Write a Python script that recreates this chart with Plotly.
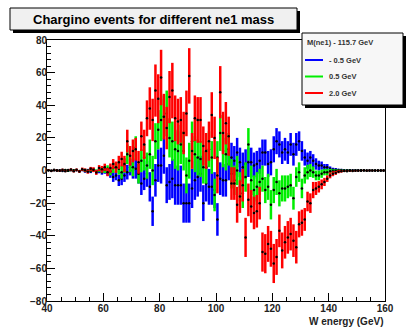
import plotly.graph_objects as go

# bin centres (GeV): 40.5 ... 159.5, 1 GeV bins
bin_lo = 40
n_bins = 120
w_energy = [bin_lo + i + 0.5 for i in range(n_bins)]

series_names = ["- 0.5 GeV", "0.5 GeV", "2.0 GeV"]
series_colors = ["#0000ff", "#00ee00", "#ff0000"]

blue_vals = [
    0.1, -0.2, 0.2, -0.1, 0.1, -0.3, 0.2, -0.2, 0.3, -0.2,
    0.2, -0.4, 0.3, -0.5, 0.2, -0.6, 0.4, -0.8, -0.3, -1.0,
    0.0, -1.0, -2.0, -4.0, -3.0, -6.0, -5.0, -3.0, -1.0, 2.0,
    0.0, 1.0, -2.0, -8.0, -5.0, -2.0, -10.0, -25.0, -6.0, 3.0,
    3.0, 9.0, -9.0, -7.0, -5.0, -9.0, -9.0, -9.0, -20.0, -20.0,
    -20.0, -11.0, -6.0, -4.0, -2.0, -20.0, -8.0, -10.0, -10.0, -12.0,
    -30.0, -5.0, -6.0, -6.0, 4.0, 8.0, 6.0, 11.0, 5.0, 2.0,
    4.0, 5.0, 5.0, 3.0, 4.0, 6.0, 11.0, 11.0, 4.0, 5.0,
    13.0, 18.0, 16.0, 11.0, 13.0, 11.0, 16.0, 10.0, 16.0, 18.0,
    12.0, 8.0, 6.0, 8.0, 6.0, 4.0, 3.0, 3.0, 2.0, 2.0,
    1.0, 0.5, 0.5, 0.3, 0.3, 0.2, 0.1, 0.2, 0.1, 0.1,
    0.1, 0.0, 0.1, 0.0, 0.05, 0.0, 0.02, 0.0, 0.0, 0.0,
]
blue_errs = [
    0.3, 0.3, 0.3, 0.3, 0.4, 0.4, 0.4, 0.5, 0.5, 0.5,
    0.6, 0.6, 0.7, 0.8, 0.8, 1.0, 1.0, 1.2, 1.4, 1.6,
    2.0, 2.2, 2.5, 3.0, 3.0, 3.5, 4.0, 4.0, 4.5, 5.0,
    5.0, 6.0, 6.0, 7.0, 7.0, 8.0, 9.0, 9.0, 10.0, 10.0,
    11.0, 11.0, 11.0, 11.0, 12.0, 12.0, 12.0, 12.0, 12.0, 12.0,
    12.0, 12.0, 12.0, 12.0, 11.0, 11.0, 11.0, 11.0, 11.0, 11.0,
    10.0, 10.0, 10.0, 10.0, 10.0, 9.0, 9.0, 9.0, 9.0, 9.0,
    9.0, 9.0, 9.0, 8.0, 8.0, 8.0, 8.0, 8.0, 8.0, 8.0,
    8.0, 8.0, 8.0, 7.0, 7.0, 7.0, 7.0, 7.0, 7.0, 6.0,
    6.0, 5.0, 5.0, 4.0, 4.0, 3.5, 3.0, 2.5, 2.0, 2.0,
    1.5, 1.2, 1.0, 0.8, 0.7, 0.6, 0.5, 0.5, 0.4, 0.4,
    0.3, 0.3, 0.3, 0.3, 0.3, 0.3, 0.3, 0.3, 0.3, 0.3,
]

green_vals = [
    0.2, -0.1, 0.1, 0.2, -0.2, 0.1, 0.3, -0.2, 0.2, 0.1,
    0.3, -0.3, 0.4, 0.2, -0.4, 0.5, 0.3, -0.5, 0.6, 0.4,
    0.5, 1.0, -0.5, 1.5, 2.0, 1.0, -1.0, 3.0, 10.0, 4.0,
    2.0, 14.0, -2.0, 6.0, 8.0, 3.0, 10.0, 0.0, 18.0, 25.0,
    31.0, 33.0, 35.0, 20.0, 18.0, 13.0, 12.0, 16.0, 12.0, -3.0,
    6.0, 18.0, 10.0, 8.0, 7.0, 2.0, 2.0, 13.0, 8.0, -15.0,
    8.0, 23.0, 12.0, 10.0, 13.0, -2.0, -6.0, 0.0, -10.0, -14.0,
    -4.0, 16.0, -6.0, -12.0, -10.0, -7.0, -5.0, -12.0, -10.0, -21.0,
    -12.0, -7.0, -14.0, -11.0, -11.0, -10.0, -9.0, -17.0, -4.0, -1.0,
    -11.0, -3.0, -1.0, 0.0, -1.0, -3.0, -3.0, -2.0, -1.0, -1.0,
    -0.5, -0.5, -0.3, -0.2, -0.2, -0.1, -0.1, 0.1, -0.1, 0.0,
    0.0, 0.1, 0.0, -0.05, 0.0, 0.0, 0.0, 0.0, 0.0, 0.0,
]
green_errs = [
    0.3, 0.3, 0.3, 0.3, 0.4, 0.4, 0.4, 0.5, 0.5, 0.5,
    0.6, 0.6, 0.7, 0.8, 0.8, 1.0, 1.0, 1.2, 1.4, 1.6,
    2.0, 2.2, 2.5, 3.0, 3.0, 3.5, 4.0, 4.5, 6.0, 5.0,
    5.5, 7.0, 6.0, 7.0, 8.0, 8.0, 9.0, 9.0, 11.0, 12.0,
    13.0, 13.0, 14.0, 12.0, 12.0, 12.0, 12.0, 12.0, 12.0, 11.0,
    11.0, 12.0, 11.0, 11.0, 11.0, 10.0, 10.0, 11.0, 10.0, 10.0,
    10.0, 11.0, 10.0, 10.0, 10.0, 9.0, 9.0, 9.0, 9.0, 9.0,
    9.0, 10.0, 9.0, 9.0, 9.0, 8.0, 8.0, 8.0, 8.0, 9.0,
    8.0, 8.0, 8.0, 8.0, 8.0, 7.0, 7.0, 7.0, 6.0, 6.0,
    6.0, 5.0, 4.5, 4.0, 3.5, 3.0, 3.0, 2.5, 2.0, 2.0,
    1.5, 1.2, 1.0, 0.8, 0.7, 0.6, 0.5, 0.5, 0.4, 0.4,
    0.3, 0.3, 0.3, 0.3, 0.3, 0.3, 0.3, 0.3, 0.3, 0.3,
]

red_vals = [
    0.2, -0.3, 0.4, 0.1, -0.2, 0.5, -0.4, 0.3, 0.6, -0.5,
    0.4, -0.6, 0.8, 0.3, -0.8, 1.0, 0.5, -1.2, 1.5, 0.8,
    2.0, -1.0, 1.5, 4.0, 2.0, 5.0, 7.0, 4.0, 18.0, 9.0,
    12.0, 13.0, 5.0, 21.0, 16.0, 32.0, 38.0, 31.0, 49.0, 44.0,
    57.0, 33.0, 26.0, 45.0, 49.0, 32.0, 30.0, 31.0, 23.0, 35.0,
    58.0, 12.0, 32.0, 31.0, 31.0, 15.0, 12.0, 18.0, 34.0, 20.0,
    -3.0, 48.0, 23.0, 29.0, 21.0, -8.0, -8.0, -21.0, -16.0, -9.0,
    -41.0, -18.0, -22.0, -26.0, -25.0, -20.0, -50.0, -51.0, -45.0, -48.0,
    -57.0, -53.0, -37.0, -49.0, -44.0, -41.0, -39.0, -43.0, -47.0, -33.0,
    -32.0, -30.0, -19.0, -20.0, -12.0, -11.0, -10.0, -8.5, -7.0, -5.0,
    -3.0, -2.0, -1.5, -0.7, -0.5, -0.3, -0.4, -0.2, -0.3, -0.1,
    -0.2, -0.1, 0.1, -0.1, 0.05, -0.05, 0.0, 0.02, 0.0, 0.0,
]
red_errs = [
    0.5, 0.5, 0.5, 0.5, 0.5, 0.6, 0.6, 0.6, 0.7, 0.7,
    0.8, 0.8, 1.0, 1.0, 1.2, 1.2, 1.5, 1.5, 1.8, 2.0,
    2.2, 2.5, 2.8, 3.0, 3.5, 4.0, 4.5, 5.0, 7.0, 6.0,
    7.0, 7.0, 7.0, 9.0, 9.0, 11.0, 13.0, 13.0, 16.0, 15.0,
    17.0, 14.0, 13.0, 16.0, 17.0, 14.0, 14.0, 14.0, 13.0, 14.0,
    17.0, 11.0, 14.0, 14.0, 14.0, 12.0, 11.0, 12.0, 14.0, 13.0,
    11.0, 16.0, 13.0, 13.0, 12.0, 10.0, 10.0, 11.0, 10.0, 10.0,
    12.0, 10.0, 10.0, 10.0, 10.0, 10.0, 12.0, 12.0, 11.0, 11.0,
    12.0, 11.0, 10.0, 11.0, 10.0, 10.0, 10.0, 10.0, 10.0, 8.0,
    8.0, 7.0, 6.0, 6.0, 5.0, 4.0, 3.5, 3.0, 2.5, 2.0,
    1.8, 1.5, 1.2, 1.0, 0.8, 0.6, 0.5, 0.5, 0.4, 0.4,
    0.3, 0.3, 0.3, 0.3, 0.3, 0.3, 0.3, 0.3, 0.3, 0.3,
]

title_text = "Chargino events for different ne1 mass"
legend_header = "M(ne1) - 115.7 GeV"
x_title = "W energy (GeV)"

# ---- geometry (pixels of the 407x327 canvas) ----
W, H = 407, 327
L, R, T, B = 47, 385, 40, 301


def px(xp):
    return (xp - L) / (R - L)


def py(yp):
    return (B - yp) / (B - T)


fig = go.Figure()
for vals, errs, col, name in [
    (blue_vals, blue_errs, series_colors[0], series_names[0]),
    (green_vals, green_errs, series_colors[1], series_names[1]),
    (red_vals, red_errs, series_colors[2], series_names[2]),
]:
    fig.add_trace(go.Scatter(
        x=w_energy, y=vals, mode="markers", name=name, showlegend=False,
        marker=dict(color="black", size=2.5),
        error_y=dict(type="data", array=errs, visible=True, color=col,
                     thickness=2.5, width=0),
    ))

font_b = "Liberation Sans, Arial, sans-serif"
shapes = []
annotations = []

# title box with shadow
shapes.append(dict(type="rect", xref="paper", yref="paper",
                   x0=px(13), x1=px(300), y0=py(33), y1=py(11),
                   fillcolor="black", line=dict(width=0)))
shapes.append(dict(type="rect", xref="paper", yref="paper",
                   x0=px(10), x1=px(297), y0=py(30), y1=py(8),
                   fillcolor="#f0f0f0", line=dict(color="black", width=1)))
annotations.append(dict(text=title_text, xref="paper", yref="paper",
                        x=px(153.5), y=py(19.5), xanchor="center", yanchor="middle",
                        showarrow=False,
                        font=dict(family=font_b, size=13, color="black", weight="bold")))

# legend box with shadow
shapes.append(dict(type="rect", xref="paper", yref="paper",
                   x0=px(305), x1=px(406), y0=py(108), y1=py(36),
                   fillcolor="black", line=dict(width=0)))
shapes.append(dict(type="rect", xref="paper", yref="paper",
                   x0=px(302), x1=px(403), y0=py(105), y1=py(33),
                   fillcolor="#f7f7f7", line=dict(color="black", width=1)))
annotations.append(dict(text=legend_header, xref="paper", yref="paper",
                        x=px(305), y=py(42.5), xanchor="left", yanchor="middle",
                        showarrow=False,
                        font=dict(family=font_b, size=7.5, color="#333333", weight="bold")))
for i, (name, col) in enumerate(zip(series_names, series_colors)):
    yy = 60 + i * 16.5
    shapes.append(dict(type="line", xref="paper", yref="paper",
                       x0=px(305), x1=px(323), y0=py(yy), y1=py(yy),
                       line=dict(color=col, width=2)))
    annotations.append(dict(text=name, xref="paper", yref="paper",
                            x=px(327), y=py(yy), xanchor="left", yanchor="middle",
                            showarrow=False,
                            font=dict(family=font_b, size=7.5, color="#333333", weight="bold")))

# x axis title
annotations.append(dict(text=x_title, xref="paper", yref="paper",
                        x=px(385), y=py(321), xanchor="right", yanchor="middle",
                        showarrow=False,
                        font=dict(family=font_b, size=10, color="#222222", weight="bold")))

tickfont = dict(family=font_b, size=10, color="#222222", weight="bold")
fig.update_layout(
    width=W, height=H, autosize=False,
    margin=dict(l=L, r=W - R, t=T, b=H - B, pad=0),
    paper_bgcolor="white", plot_bgcolor="white",
    shapes=shapes, annotations=annotations,
    showlegend=False,
    xaxis=dict(range=[40, 160], dtick=20, tick0=40, ticks="inside", ticklen=8,
               tickcolor="black", showline=True, linecolor="black", linewidth=1,
               mirror=True, showgrid=False, zeroline=False, tickfont=tickfont,
               ticklabelstandoff=-2,
               minor=dict(dtick=5, ticks="inside", ticklen=4, tickcolor="black",
                          showgrid=False)),
    yaxis=dict(range=[-80, 80], dtick=20, tick0=-80, ticks="inside", ticklen=8,
               tickcolor="black", showline=True, linecolor="black", linewidth=1,
               mirror=True, showgrid=False, zeroline=False, tickfont=tickfont,
               ticklabelstandoff=-3,
               minor=dict(dtick=4, ticks="inside", ticklen=4, tickcolor="black",
                          showgrid=False)),
)

fig.write_html("out.html")
